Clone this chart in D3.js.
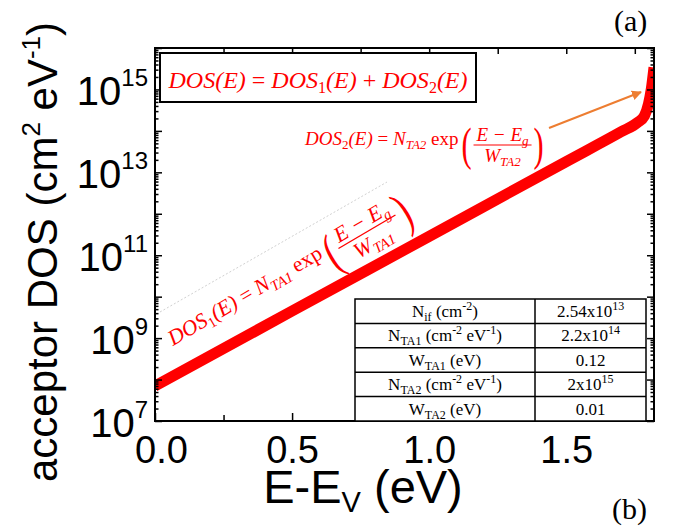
<!DOCTYPE html>
<meta charset="utf-8">
<style>
body { margin: 0; background: #fff; }
text { font-family: "Liberation Sans", Arial, sans-serif; }
.serif { font-family: "Liberation Serif", "Times New Roman", serif; }
</style>
<body>
<script src="https://d3js.org/d3.v7.min.js"></script>
<script>

// curve (E in eV, DOS in cm^-2 eV^-1)
var energy = [0, 0.5, 1.0, 1.5, 1.7, 1.76, 1.785, 1.80, 1.81, 1.82];
var dos = [7.0e7, 4.5e9, 2.85e11, 1.82e13, 9.5e13, 1.6e14, 2.3e14, 4.5e14, 1.0e15, 3.4e15];

var xTicks = [0, 0.5, 1.0, 1.5];
var xMinor = [0.25, 0.75, 1.25, 1.75];
var yExpLabels = [7, 9, 11, 13, 15];
var yExpTicks = [7, 8, 9, 10, 11, 12, 13, 14, 15, 16];

// parameter table
var paramNames = [
  [["N"], ["if", "sub"], [" (cm"], ["-2", "sup"], [")"]],
  [["N"], ["TA1", "sub"], [" (cm"], ["-2", "sup"], [" eV"], ["-1", "sup"], [")"]],
  [["W"], ["TA1", "sub"], [" (eV)"]],
  [["N"], ["TA2", "sub"], [" (cm"], ["-2", "sup"], [" eV"], ["-1", "sup"], [")"]],
  [["W"], ["TA2", "sub"], [" (eV)"]]
];
var paramValues = [
  [["2.54x10"], ["13", "sup"]],
  [["2.2x10"], ["14", "sup"]],
  [["0.12"]],
  [["2x10"], ["15", "sup"]],
  [["0.01"]]
];

var width = 677, height = 529;
var pL = 155, pR = 654, pT = 48, pB = 421;

var svg = d3.select("body").append("svg")
    .attr("width", width)
    .attr("height", height);

var x = d3.scaleLinear().domain([0, 1.82]).range([pL, pR]);
var y = d3.scaleLog().domain([1e7, 1e16]).range([pB, pT]);

var defs = svg.append("defs");
defs.append("clipPath").attr("id", "plotclip")
  .append("rect")
    .attr("x", pL).attr("y", pT)
    .attr("width", pR - pL).attr("height", pB - pT);

defs.append("marker")
    .attr("id", "arrow")
    .attr("viewBox", "0 0 10 10")
    .attr("refX", 9).attr("refY", 5)
    .attr("markerWidth", 5).attr("markerHeight", 5)
    .attr("markerUnits", "strokeWidth")
    .attr("orient", "auto")
  .append("path")
    .attr("d", "M0,0 L10,5 L0,10 z")
    .attr("fill", "#ed7d31");

// the curve
var pts = energy.map(function(e, i) { return [e, dos[i]]; });
var line = d3.line()
    .x(function(d) { return x(d[0]); })
    .y(function(d) { return y(d[1]); })
    .curve(d3.curveMonotoneX);

svg.append("path")
    .datum(pts)
    .attr("clip-path", "url(#plotclip)")
    .attr("d", line)
    .attr("fill", "none")
    .attr("stroke", "#ff0000")
    .attr("stroke-width", 11);

// ticks, all pointing inward
function styleAxis(g) {
  g.select(".domain").remove();
  g.selectAll(".tick line").attr("stroke", "#000").attr("stroke-width", 1.5);
}

svg.append("g").attr("transform", "translate(0," + pB + ")")
    .call(d3.axisBottom(x).tickValues(xTicks).tickSize(-8).tickPadding(15)
      .tickFormat(d3.format(".1f")))
    .call(styleAxis)
    .selectAll("text")
      .attr("dx", function(d) { return d === 0 ? 6 : 0; })
      .style("font-family", "'Liberation Sans', Arial, sans-serif")
      .style("font-size", "38px")
      .attr("fill", "#000");

svg.append("g").attr("transform", "translate(0," + pB + ")")
    .call(d3.axisBottom(x).tickValues(xMinor).tickSize(-6).tickFormat(""))
    .call(styleAxis);
svg.append("g").attr("transform", "translate(0," + pT + ")")
    .call(d3.axisTop(x).tickValues(xTicks.concat(xMinor)).tickSize(-6).tickFormat(""))
    .call(styleAxis);

var yMajor = yExpTicks.map(function(p) { return Math.pow(10, p); });
var yMinor = [];
yExpTicks.slice(0, -1).forEach(function(p) {
  for (var m = 2; m < 10; m++) yMinor.push(m * Math.pow(10, p));
});

[[pL, d3.axisLeft], [pR, d3.axisRight]].forEach(function(s) {
  svg.append("g").attr("transform", "translate(" + s[0] + ",0)")
      .call(s[1](y).tickValues(yMajor).tickSize(-7).tickFormat(""))
      .call(styleAxis);
  svg.append("g").attr("transform", "translate(" + s[0] + ",0)")
      .call(s[1](y).tickValues(yMinor).tickSize(-3.5).tickFormat(""))
      .call(styleAxis);
});

svg.append("rect")
    .attr("x", pL).attr("y", pT)
    .attr("width", pR - pL).attr("height", pB - pT)
    .attr("fill", "none")
    .attr("stroke", "#000")
    .attr("stroke-width", 2);

// y tick labels 10^n
yExpLabels.forEach(function(p) {
  var t = svg.append("text")
      .attr("x", 148)
      .attr("y", y(Math.pow(10, p)) + 16)
      .attr("text-anchor", "end")
      .style("font-size", "40px");
  t.append("tspan").text("10");
  t.append("tspan").attr("dy", -19).style("font-size", "24px").text(p);
});

// axis titles
var xt = svg.append("text")
    .attr("x", 363).attr("y", 503)
    .attr("text-anchor", "middle")
    .style("font-size", "47px");
xt.append("tspan").text("E-E");
xt.append("tspan").attr("dy", 9).style("font-size", "29px").text("V");
xt.append("tspan").attr("dy", -9).text(" (eV)");

var yt = svg.append("text")
    .attr("transform", "translate(57,252) rotate(-90)")
    .attr("text-anchor", "middle")
    .style("font-size", "42px");
yt.append("tspan").text("acceptor DOS (cm");
yt.append("tspan").attr("dy", -17).style("font-size", "26px").text("2");
yt.append("tspan").attr("dy", 17).text(" eV");
yt.append("tspan").attr("dy", -17).style("font-size", "26px").text("-1");
yt.append("tspan").attr("dy", 17).text(")");

// panel labels
svg.append("text").attr("class", "serif").attr("x", 614).attr("y", 31)
    .style("font-size", "30px").text("(a)");
svg.append("text").attr("class", "serif").attr("x", 612).attr("y", 519)
    .style("font-size", "30px").text("(b)");

// DOS(E) box
svg.append("rect")
    .attr("x", 160).attr("y", 53).attr("width", 316).attr("height", 49)
    .attr("fill", "#fff").attr("stroke", "#000").attr("stroke-width", 2);

var sumT = svg.append("text").attr("class", "serif")
    .attr("x", 318).attr("y", 88)
    .attr("text-anchor", "middle")
    .attr("fill", "#ff0000")
    .style("font-size", "24px");
var wasSub = false;
[["DOS(E)", "i"], [" = ", "n"], ["DOS", "i"], ["1", "s"], ["(E)", "i"], [" + ", "n"],
 ["DOS", "i"], ["2", "s"], ["(E)", "i"]].forEach(function(p) {
  var ts = sumT.append("tspan").text(p[0])
      .style("font-style", p[1] === "n" ? "normal" : "italic");
  if (p[1] === "s") ts.attr("dy", 5).style("font-size", "16px").style("font-style", "normal");
  else if (wasSub) ts.attr("dy", -5);
  wasSub = p[1] === "s";
});

// formula with a fraction, drawn at baseline 0
function formula(g, idx) {
  var main = g.append("text").attr("class", "serif")
      .attr("fill", "#ff0000").style("font-size", "19px");
  main.append("tspan").style("font-style", "italic").text("DOS");
  main.append("tspan").attr("dy", 4).style("font-size", "13px").text(idx);
  main.append("tspan").attr("dy", -4).style("font-style", "italic").text("(E)");
  main.append("tspan").text(" = ");
  main.append("tspan").style("font-style", "italic").text("N");
  main.append("tspan").attr("dy", 4).style("font-size", "13px").style("font-style", "italic").text("TA" + idx);
  main.append("tspan").attr("dy", -4).text(" exp");
  var w = main.node().getComputedTextLength();

  g.append("text").attr("class", "serif").attr("fill", "#ff0000")
      .attr("transform", "translate(" + (w + 3) + ",15) scale(0.8,1.2)")
      .style("font-size", "38px").text("(");
  var cx = w + 44;
  var num = g.append("text").attr("class", "serif").attr("fill", "#ff0000")
      .attr("x", cx).attr("y", -4).attr("text-anchor", "middle").style("font-size", "19px");
  num.append("tspan").style("font-style", "italic").text("E − E");
  num.append("tspan").attr("dy", 4).style("font-size", "13px").style("font-style", "italic").text("g");
  g.append("line")
      .attr("x1", w + 15).attr("x2", w + 73).attr("y1", 0).attr("y2", 0)
      .attr("stroke", "#ff0000").attr("stroke-width", 1.2);
  var den = g.append("text").attr("class", "serif").attr("fill", "#ff0000")
      .attr("x", cx).attr("y", 17).attr("text-anchor", "middle").style("font-size", "19px");
  den.append("tspan").style("font-style", "italic").text("W");
  den.append("tspan").attr("dy", 4).style("font-size", "13px").style("font-style", "italic").text("TA" + idx);
  g.append("text").attr("class", "serif").attr("fill", "#ff0000")
      .attr("transform", "translate(" + (w + 75) + ",15) scale(0.8,1.2)")
      .style("font-size", "38px").text(")");
}

// DOS1 label along the line, with the faint text box edge above it
svg.append("line")
    .attr("x1", 160).attr("y1", 312).attr("x2", 387).attr("y2", 182)
    .attr("stroke", "#bbb").attr("stroke-width", 0.7)
    .attr("stroke-dasharray", "2,2");
formula(svg.append("g").attr("transform", "translate(173,346) rotate(-30.5) scale(1.14)"), "1");

formula(svg.append("g").attr("transform", "translate(305,145)"), "2");

// arrow to the steep tail
svg.append("line")
    .attr("x1", 549).attr("y1", 128).attr("x2", 641).attr("y2", 92)
    .attr("stroke", "#ed7d31").attr("stroke-width", 2)
    .attr("marker-end", "url(#arrow)");

// parameter table
var tX = [355, 535, 646], tTop = 299, rowH = (pB - tTop) / paramNames.length;
var tab = svg.append("g");
tab.append("rect")
    .attr("x", tX[0]).attr("y", tTop)
    .attr("width", tX[2] - tX[0]).attr("height", pB - tTop)
    .attr("fill", "#fff").attr("stroke", "#000").attr("stroke-width", 1.5);

function cell(parts, cx, by) {
  var t = tab.append("text").attr("class", "serif")
      .attr("x", cx).attr("y", by).attr("text-anchor", "middle")
      .style("font-size", "17px");
  var shift = 0;
  parts.forEach(function(p) {
    var want = p[1] === "sub" ? 4 : p[1] === "sup" ? -7 : 0;
    var ts = t.append("tspan").attr("dy", want - shift).text(p[0]);
    if (p[1]) ts.style("font-size", "12px");
    shift = want;
  });
}

paramNames.forEach(function(row, i) {
  var y0 = tTop + i * rowH;
  if (i > 0) tab.append("line")
      .attr("x1", tX[0]).attr("x2", tX[2]).attr("y1", y0).attr("y2", y0)
      .attr("stroke", "#000").attr("stroke-width", 1.5);
  cell(row, (tX[0] + tX[1]) / 2, y0 + 18);
  cell(paramValues[i], (tX[1] + tX[2]) / 2, y0 + 18);
});
tab.append("line")
    .attr("x1", tX[1]).attr("x2", tX[1]).attr("y1", tTop).attr("y2", pB)
    .attr("stroke", "#000").attr("stroke-width", 1.5);

</script>
</body>
</html>
